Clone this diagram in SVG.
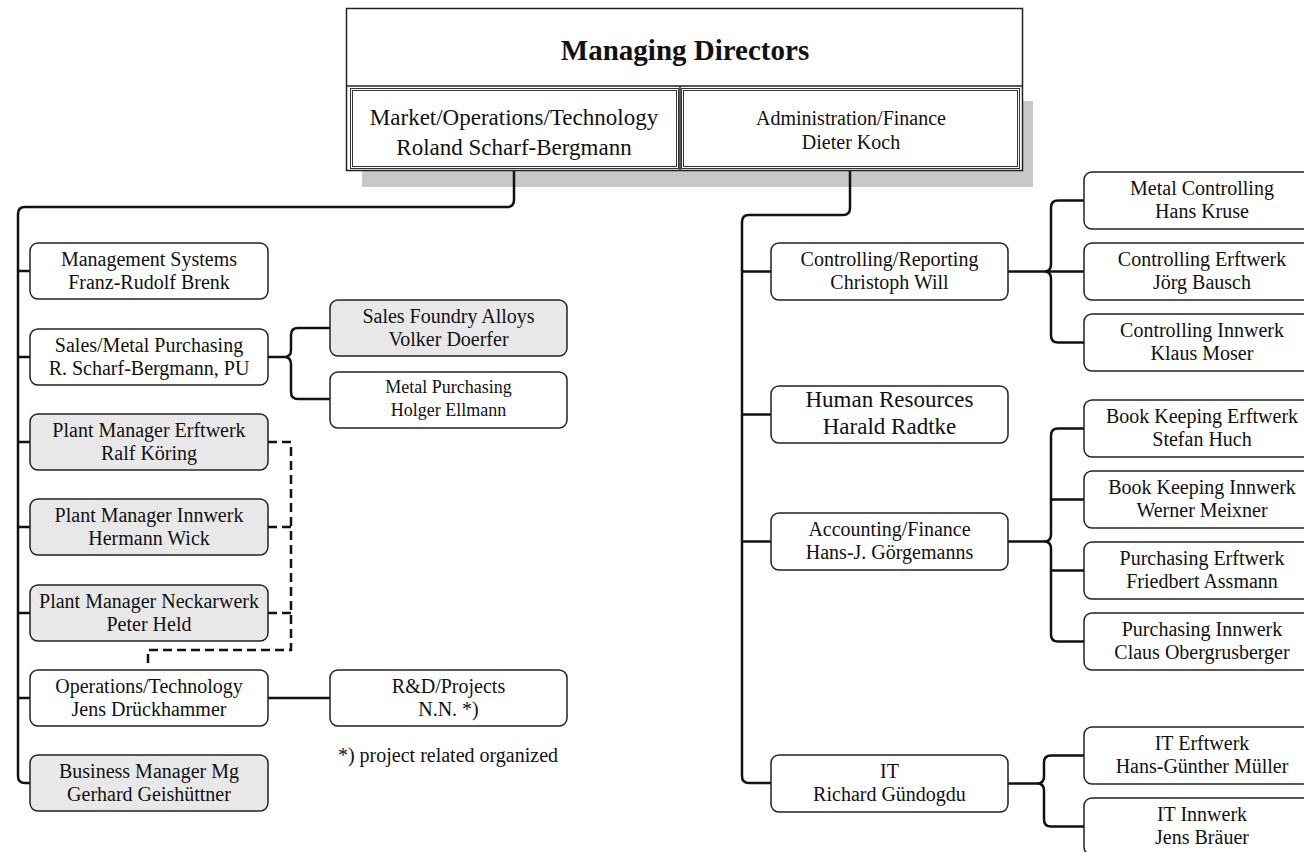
<svg xmlns="http://www.w3.org/2000/svg" width="1304" height="852" viewBox="0 0 1304 852">
<style>
text{font-family:"Liberation Serif","Times New Roman",serif;fill:#111;text-anchor:middle}
.t{font-size:20px}
.s{font-size:18px}
.h{font-size:23px}
.box{fill:#fff;stroke:#222;stroke-width:1.5}
.g{fill:#e8e8e8;stroke:#222;stroke-width:1.5}
.c{fill:none;stroke:#111;stroke-width:2.5;stroke-linejoin:round}
.d{fill:none;stroke:#111;stroke-width:2.5;stroke-dasharray:9 5}
.fr{fill:none;stroke:#222;stroke-width:1.5}
.dl{fill:none;stroke:#333;stroke-width:1}
</style>
<g id="top">
<rect x="362" y="101" width="671" height="86" fill="#c8c8c8"/>
<rect x="346.5" y="8.5" width="676" height="162" fill="#fff" stroke="#222" stroke-width="1.5"/>
<line x1="346.5" y1="86" x2="1022.5" y2="86" stroke="#222" stroke-width="1.5"/>
<line x1="680" y1="86" x2="680" y2="170.5" stroke="#222" stroke-width="1.5"/>
<text x="685" y="60" style="font-size:29px;font-weight:bold">Managing Directors</text>
</g>
<g id="mot">
<rect class="dl" x="350.5" y="88.5" width="328" height="80"/>
<rect class="dl" x="352.5" y="90.5" width="324" height="76"/>
<text x="514" y="125" class="h">Market/Operations/Technology</text>
<text x="514" y="155" class="h">Roland Scharf-Bergmann</text>
</g>
<g id="af">
<rect class="dl" x="681.5" y="88.5" width="338" height="80"/>
<rect class="dl" x="683.5" y="90.5" width="334" height="76"/>
<text x="851" y="125" class="t">Administration/Finance</text>
<text x="851" y="149" class="t">Dieter Koch</text>
</g>
<g id="connectors">
<path class="c" d="M514,171 V200 Q514,207 507,207 H25 Q18,207 18,214 V776 Q18,783 25,783 H30"/>
<path class="c" d="M18,271 H30 M18,357 H30 M18,442 H30 M18,527 H30 M18,613 H30 M18,698 H30"/>
<path class="c" d="M268,357 H284 Q291,357 291,350 V335 Q291,328 298,328 H330 M284,357 Q291,357 291,364 V392 Q291,399 298,399 H330"/>
<path class="c" d="M268,698 H330"/>
<path class="d" d="M268,442 H291 V650 H148 V663 M268,527 H291 M268,613 H291"/>
<path class="c" d="M850,171 V208 Q850,215 843,215 H749 Q742,215 742,222 V776 Q742,783 749,783 H771"/>
<path class="c" d="M742,271.5 H771 M742,414.5 H771 M742,541.5 H771"/>
<path class="c" d="M1008,271.5 H1084 M1044,271.5 Q1051,271.5 1051,264.5 V207.5 Q1051,200.5 1058,200.5 H1084 M1044,271.5 Q1051,271.5 1051,278.5 V335.5 Q1051,342.5 1058,342.5 H1084"/>
<path class="c" d="M1008,541.5 H1044 Q1051,541.5 1051,534.5 V435.5 Q1051,428.5 1058,428.5 H1084 M1044,541.5 Q1051,541.5 1051,548.5 V634.5 Q1051,641.5 1058,641.5 H1084 M1051,499.5 H1084 M1051,570.5 H1084"/>
<path class="c" d="M1008,783.5 H1037 Q1044,783.5 1044,776.5 V762.5 Q1044,755.5 1051,755.5 H1084 M1037,783.5 Q1044,783.5 1044,790.5 V819.5 Q1044,826.5 1051,826.5 H1084"/>
</g>
<g id="ms"><rect class="box" x="30" y="243" width="238" height="56" rx="8"/><text x="149" y="266" class="t">Management Systems</text><text x="149" y="289" class="t">Franz-Rudolf Brenk</text></g>
<g id="smp"><rect class="box" x="30" y="329" width="238" height="56" rx="8"/><text x="149" y="352" class="t">Sales/Metal Purchasing</text><text x="149" y="375" class="t">R. Scharf-Bergmann, PU</text></g>
<g id="pme"><rect class="g" x="30" y="414" width="238" height="56" rx="8"/><text x="149" y="437" class="t">Plant Manager Erftwerk</text><text x="149" y="460" class="t">Ralf Köring</text></g>
<g id="pmi"><rect class="g" x="30" y="499" width="238" height="56" rx="8"/><text x="149" y="522" class="t">Plant Manager Innwerk</text><text x="149" y="545" class="t">Hermann Wick</text></g>
<g id="pmn"><rect class="g" x="30" y="585" width="238" height="56" rx="8"/><text x="149" y="608" class="t">Plant Manager Neckarwerk</text><text x="149" y="631" class="t">Peter Held</text></g>
<g id="ot"><rect class="box" x="30" y="670" width="238" height="56" rx="8"/><text x="149" y="693" class="t">Operations/Technology</text><text x="149" y="716" class="t">Jens Drückhammer</text></g>
<g id="bm"><rect class="g" x="30" y="755" width="238" height="56" rx="8"/><text x="149" y="778" class="t">Business Manager Mg</text><text x="149" y="801" class="t">Gerhard Geishüttner</text></g>
<g id="sfa"><rect class="g" x="330" y="300" width="237" height="56" rx="8"/><text x="448.5" y="323" class="t">Sales Foundry Alloys</text><text x="448.5" y="346" class="t">Volker Doerfer</text></g>
<g id="mp"><rect class="box" x="330" y="372" width="237" height="56" rx="8"/><text x="448.5" y="393" class="s">Metal Purchasing</text><text x="448.5" y="416" class="s">Holger Ellmann</text></g>
<g id="rd"><rect class="box" x="330" y="670" width="237" height="56" rx="8"/><text x="448.5" y="693" class="t">R&amp;D/Projects</text><text x="448.5" y="716" class="t">N.N. *)</text></g>
<g id="note"><text x="448" y="762" class="t">*) project related organized</text></g>
<g id="cr"><rect class="box" x="771" y="243" width="237" height="57" rx="8"/><text x="889.5" y="266" class="t">Controlling/Reporting</text><text x="889.5" y="289" class="t">Christoph Will</text></g>
<g id="hr"><rect class="box" x="771" y="386" width="237" height="57" rx="8"/><text x="889.5" y="407" class="h">Human Resources</text><text x="889.5" y="434" class="h">Harald Radtke</text></g>
<g id="acc"><rect class="box" x="771" y="513" width="237" height="57" rx="8"/><text x="889.5" y="536" class="t">Accounting/Finance</text><text x="889.5" y="559" class="t">Hans-J. Görgemanns</text></g>
<g id="it"><rect class="box" x="771" y="755" width="237" height="57" rx="8"/><text x="889.5" y="778" class="t">IT</text><text x="889.5" y="801" class="t">Richard Gündogdu</text></g>
<g id="mc"><rect class="box" x="1084" y="172" width="236" height="57" rx="8"/><text x="1202" y="195" class="t">Metal Controlling</text><text x="1202" y="218" class="t">Hans Kruse</text></g>
<g id="ce"><rect class="box" x="1084" y="243" width="236" height="57" rx="8"/><text x="1202" y="266" class="t">Controlling Erftwerk</text><text x="1202" y="289" class="t">Jörg Bausch</text></g>
<g id="ci"><rect class="box" x="1084" y="314" width="236" height="57" rx="8"/><text x="1202" y="337" class="t">Controlling Innwerk</text><text x="1202" y="360" class="t">Klaus Moser</text></g>
<g id="bke"><rect class="box" x="1084" y="400" width="236" height="57" rx="8"/><text x="1202" y="423" class="t">Book Keeping Erftwerk</text><text x="1202" y="446" class="t">Stefan Huch</text></g>
<g id="bki"><rect class="box" x="1084" y="471" width="236" height="57" rx="8"/><text x="1202" y="494" class="t">Book Keeping Innwerk</text><text x="1202" y="517" class="t">Werner Meixner</text></g>
<g id="pe"><rect class="box" x="1084" y="542" width="236" height="57" rx="8"/><text x="1202" y="565" class="t">Purchasing Erftwerk</text><text x="1202" y="588" class="t">Friedbert Assmann</text></g>
<g id="pi"><rect class="box" x="1084" y="613" width="236" height="57" rx="8"/><text x="1202" y="636" class="t">Purchasing Innwerk</text><text x="1202" y="659" class="t">Claus Obergrusberger</text></g>
<g id="ite"><rect class="box" x="1084" y="727" width="236" height="57" rx="8"/><text x="1202" y="750" class="t">IT Erftwerk</text><text x="1202" y="773" class="t">Hans-Günther Müller</text></g>
<g id="iti"><rect class="box" x="1084" y="798" width="236" height="57" rx="8"/><text x="1202" y="821" class="t">IT Innwerk</text><text x="1202" y="844" class="t">Jens Bräuer</text></g>
</svg>
